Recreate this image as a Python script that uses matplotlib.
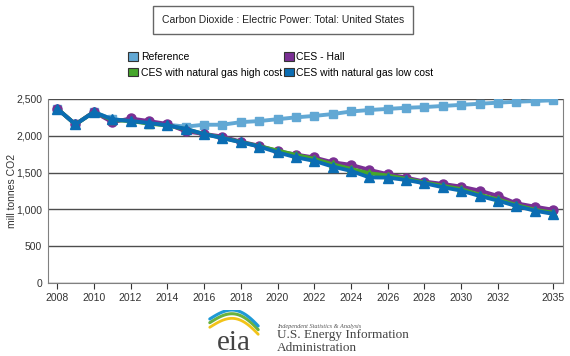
import matplotlib
matplotlib.use("Agg")
import matplotlib.pyplot as plt
import numpy as np
from matplotlib.ticker import FuncFormatter

plt.rcParams['font.family'] = ['Liberation Sans', 'DejaVu Sans']

years = list(range(2008, 2036))

reference = [2370, 2155, 2325, 2225, 2200, 2175, 2150, 2125, 2150, 2150, 2185, 2200,
             2225, 2250, 2270, 2295, 2330, 2350, 2365, 2380, 2390, 2405, 2420, 2435,
             2450, 2462, 2472, 2482]
ces_hall = [2370, 2155, 2325, 2185, 2235, 2200, 2160, 2060, 2025, 1990, 1920, 1865,
            1790, 1745, 1705, 1640, 1605, 1537, 1478, 1432, 1378, 1346, 1309, 1255,
            1183, 1083, 1037, 995]
ces_gas_high = [2370, 2155, 2320, 2215, 2200, 2165, 2140, 2090, 2025, 1972, 1915, 1858,
                1800, 1740, 1686, 1613, 1550, 1491, 1460, 1415, 1365, 1320, 1275, 1200,
                1135, 1060, 995, 955]
ces_gas_low = [2370, 2155, 2320, 2225, 2200, 2175, 2140, 2095, 2023, 1968, 1912, 1854,
               1775, 1708, 1659, 1582, 1523, 1435, 1432, 1400, 1355, 1301, 1255, 1183,
               1119, 1046, 982, 940]

xtick_years = [2008, 2010, 2012, 2014, 2016, 2018, 2020, 2022, 2024, 2026, 2028, 2030, 2032, 2035]
yticks = [0, 500, 1000, 1500, 2000, 2500]

c_ref = '#62a8d4'
c_hall = '#7a2f94'
c_high = '#45a62b'
c_low = '#0b6db3'

fig = plt.figure(figsize=(5.7, 3.56), dpi=100)
ax = fig.add_axes([0.084, 0.205, 0.904, 0.517])

ax.plot(years, reference, color=c_ref, lw=2.8, marker='s', ms=6, label='Reference', zorder=3)
ax.plot(years, ces_hall, color=c_hall, lw=2.8, marker='o', ms=6.5, label='CES - Hall', zorder=4)
ax.plot(years, ces_gas_high, color=c_high, lw=2.8, marker='^', ms=6, label='CES with natural gas high cost', zorder=5)
ax.plot(years, ces_gas_low, color=c_low, lw=2.8, marker='^', ms=6.5, label='CES with natural gas low cost', zorder=6)

ax.set_xlim(2007.5, 2035.55)
ax.set_ylim(0, 2500)
ax.set_xticks(xtick_years)
ax.set_yticks(yticks)
ax.yaxis.set_major_formatter(FuncFormatter(lambda v, p: f'{int(v):,}'))
ax.grid(axis='y', color='#4d4d4d', lw=1)
ax.set_axisbelow(True)
ax.tick_params(axis='y', length=0, labelsize=7.5, colors='#333333', pad=4)
ax.tick_params(axis='x', length=4, direction='out', labelsize=7.5, colors='#333333', pad=3)
for s in ['left', 'bottom', 'right']:
    ax.spines[s].set_color('#808080')
ax.spines['top'].set_visible(False)
fig.text(0.021, 0.463, 'mill tonnes CO2', rotation=90, ha='center', va='center',
         fontsize=7.5, color='#333333')

# title box
fig.text(0.497, 0.944, 'Carbon Dioxide : Electric Power: Total: United States', ha='center', va='center',
         fontsize=7.5, color='#222222',
         bbox=dict(boxstyle='square,pad=0.85', fc='white', ec='#666666', lw=1))

# legend
handles = [plt.Rectangle((0, 0), 1, 1, fc=c, ec='#333333', lw=0.8) for c in [c_ref, c_hall, c_high, c_low]]
labels = ['Reference', 'CES - Hall', 'CES with natural gas high cost', 'CES with natural gas low cost']
order = [0, 2, 1, 3]
leg = fig.legend([handles[i] for i in order], [labels[i] for i in order], ncol=2,
                 loc='upper left', bbox_to_anchor=(0.218, 0.865), frameon=False, fontsize=7.5,
                 handlelength=0.95, handleheight=0.95, handletextpad=0.25, columnspacing=0.15,
                 labelspacing=0.5, borderaxespad=0)

# eia logo
lax = fig.add_axes([0.36, 0.0, 0.1, 0.13])
lax.set_xlim(0, 1)
lax.set_ylim(0, 1)
lax.axis('off')
t = np.linspace(0, 1, 50)
for col, off, w in [('#f2c318', 0.62, 2.0), ('#6ab23e', 0.72, 2.2), ('#1e9ad6', 0.8, 2.2)]:
    xs = 0.08 + 0.85 * t
    ys = off + 0.32 * np.sin(np.pi * t * 0.9) - 0.25 * t
    lax.plot(xs, ys, color=col, lw=w, solid_capstyle='round')
lax.text(0.5, 0.0, 'eia', ha='center', va='bottom', fontsize=21, family='Liberation Serif', color='#444444')

fig.text(0.486, 0.083, 'Independent Statistics & Analysis', fontsize=4.5, style='italic',
         family='Liberation Serif', color='#555555', va='center')
fig.text(0.486, 0.058, 'U.S. Energy Information', fontsize=9.5, family='Liberation Serif',
         color='#444444', va='center')
fig.text(0.486, 0.022, 'Administration', fontsize=9.5, family='Liberation Serif',
         color='#444444', va='center')

fig.savefig('out.png', dpi=100)
